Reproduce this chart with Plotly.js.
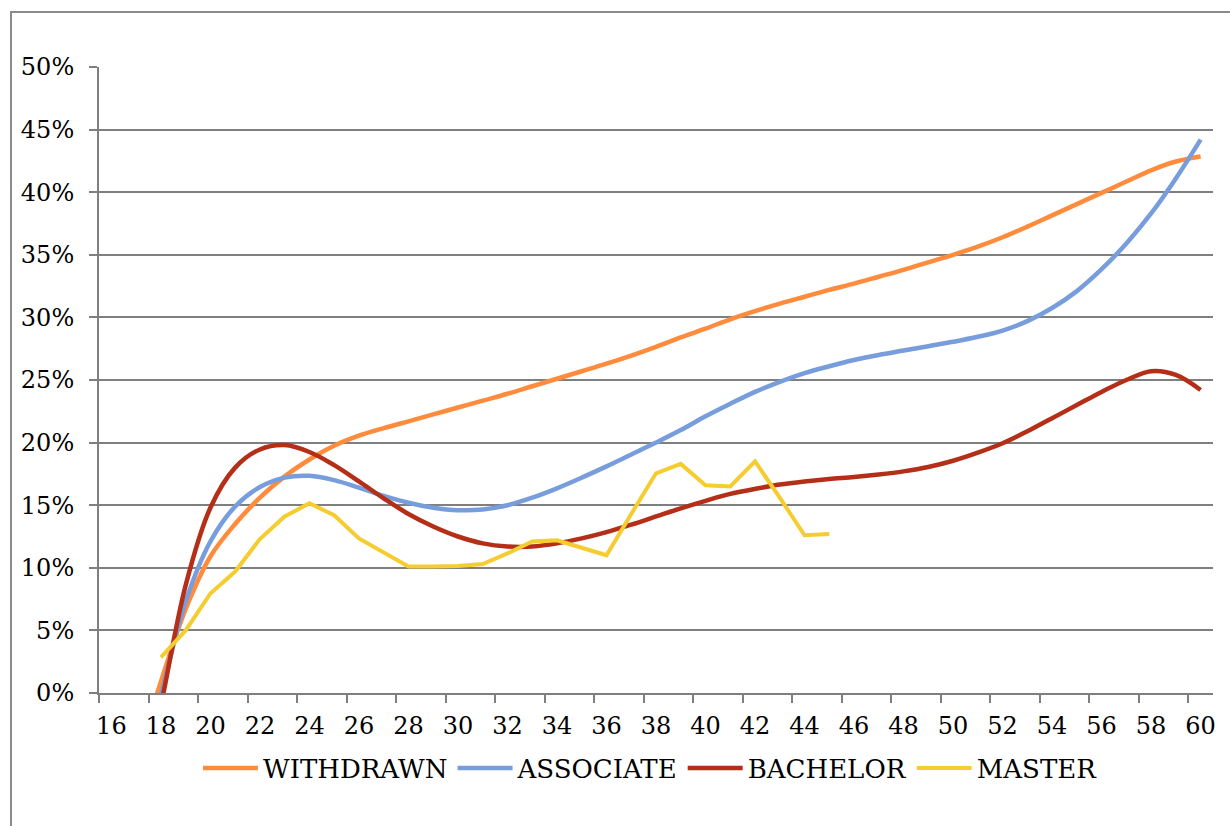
<!DOCTYPE html>
<html>
<head>
<meta charset="utf-8">
<script src="https://cdn.plot.ly/plotly-3.0.1.min.js"></script>
<style>
  html, body { margin: 0; padding: 0; background: #fff; }
  #chart { width: 1230px; height: 826px; }
</style>
</head>
<body>
<div id="chart"></div>
<script>
// Age axis labels (every second age is labelled)
const tickAges = [16, 18, 20, 22, 24, 26, 28, 30, 32, 34, 36, 38, 40, 42, 44, 46, 48, 50, 52, 54, 56, 58, 60];

// Smoothed curves, one value per age (percent)
const curveAges = [17, 18, 19, 20, 21, 22, 23, 24, 25, 26, 27, 28, 29, 30, 31, 32, 33, 34, 35, 36, 37, 38,
                   39, 40, 41, 42, 43, 44, 45, 46, 47, 48, 49, 50, 51, 52, 53, 54, 55, 56, 57, 58, 59, 60];

const withdrawn = [-5.5, 0.9, 6.7, 10.9, 13.5, 15.6, 17.3, 18.65, 19.75, 20.55, 21.15, 21.7, 22.25, 22.8, 23.35,
                   23.9, 24.5, 25.1, 25.7, 26.3, 26.95, 27.65, 28.4, 29.1, 29.85, 30.5, 31.1, 31.65, 32.2, 32.7,
                   33.25, 33.8, 34.4, 35.0, 35.65, 36.4, 37.25, 38.15, 39.05, 39.95, 40.85, 41.75, 42.45, 42.85];

const associate = [-7.5, -0.2, 7.3, 12.1, 14.9, 16.45, 17.2, 17.35, 17.0, 16.4, 15.75, 15.2, 14.8, 14.6, 14.65,
                   15.0, 15.6, 16.35, 17.2, 18.1, 19.05, 20.0, 21.0, 22.1, 23.1, 24.05, 24.85, 25.55, 26.1, 26.6,
                   27.0, 27.35, 27.7, 28.05, 28.45, 28.95, 29.7, 30.75, 32.1, 33.85, 35.9, 38.3, 41.1, 44.2];

const bachelor = [-10.0, -1.0, 8.6, 14.8, 18.0, 19.45, 19.8, 19.25, 18.2, 16.9, 15.55, 14.3, 13.3, 12.5, 11.95,
                  11.7, 11.7, 11.95, 12.35, 12.85, 13.45, 14.1, 14.75, 15.35, 15.9, 16.3, 16.65, 16.9, 17.1, 17.25,
                  17.45, 17.7, 18.05, 18.55, 19.2, 19.95, 20.9, 21.95, 23.0, 24.05, 25.0, 25.7, 25.4, 24.2];

// Observed values, drawn as a plain polyline
const masterAges = [18, 19, 20, 21, 22, 23, 24, 25, 26, 27, 28, 29, 30, 31, 32, 33, 34, 35, 36, 37, 38, 39,
                    40, 41, 42, 43, 44, 45];
const master = [2.85, 5.0, 7.95, 9.7, 12.3, 14.1, 15.15, 14.2, 12.35, 11.2, 10.1, 10.1, 10.15, 10.3, 11.15,
                12.1, 12.2, 11.6, 11.0, 14.3, 17.55, 18.3, 16.6, 16.5, 18.5, 15.6, 12.6, 12.7];

const seriesNames = ['WITHDRAWN', 'ASSOCIATE', 'BACHELOR', 'MASTER'];

const FONT = 'DejaVu Serif, "Liberation Serif", serif';
const GRID = '#7f7f7f';

const traces = [
  { x: curveAges, y: withdrawn, name: seriesNames[0], mode: 'lines',
    line: { color: '#FF8B3D', width: 4.5, shape: 'spline', smoothing: 1 } },
  { x: curveAges, y: associate, name: seriesNames[1], mode: 'lines',
    line: { color: '#779DDC', width: 4.5, shape: 'spline', smoothing: 1 } },
  { x: curveAges, y: bachelor, name: seriesNames[2], mode: 'lines',
    line: { color: '#B52E17', width: 4.5, shape: 'spline', smoothing: 1 } },
  { x: masterAges, y: master, name: seriesNames[3], mode: 'lines',
    line: { color: '#F5CD30', width: 4, shape: 'linear' } }
];

const layout = {
  width: 1230,
  height: 826,
  margin: { l: 99, r: 17, t: 67, b: 133 },
  paper_bgcolor: '#ffffff',
  plot_bgcolor: '#ffffff',
  font: { family: FONT, size: 24, color: '#000' },
  showlegend: true,
  legend: {
    orientation: 'h',
    x: 0.495, xanchor: 'center',
    y: -0.12, yanchor: 'middle',
    itemwidth: 55,
    font: { family: FONT, size: 26, color: '#000' },
    itemclick: false, itemdoubleclick: false,
    tracegroupgap: 0
  },
  xaxis: {
    type: 'linear',
    range: [15.5, 60.5],
    tickmode: 'array',
    tickvals: tickAges,
    ticktext: tickAges.map(String),
    ticks: '',
    showgrid: false,
    zeroline: false,
    showline: true,
    linecolor: GRID,
    linewidth: 2,
    ticklabelstandoff: 10,
    tickfont: { family: FONT, size: 24, color: '#000' },
    minor: {
      tickmode: 'linear',
      tick0: 15.5,
      dtick: 2,
      ticks: 'outside',
      ticklen: 8,
      tickwidth: 2,
      tickcolor: GRID,
      showgrid: false
    },
    fixedrange: true
  },
  yaxis: {
    range: [0, 50],
    tickmode: 'linear',
    tick0: 0,
    dtick: 5,
    ticksuffix: '%',
    ticks: 'outside',
    ticklen: 8,
    tickwidth: 2,
    tickcolor: GRID,
    showgrid: true,
    gridcolor: GRID,
    gridwidth: 2,
    zeroline: false,
    showline: true,
    linecolor: GRID,
    linewidth: 2,
    ticklabelstandoff: 10,
    tickfont: { family: FONT, size: 24, color: '#000' },
    fixedrange: true
  },
  shapes: [
    // outer chart frame
    { type: 'rect', xref: 'paper', yref: 'paper', layer: 'below',
      x0: -0.079, x1: 1.3, y0: -0.6, y1: 1.0879,
      line: { color: '#8a8a8a', width: 2 }, fillcolor: 'rgba(0,0,0,0)' }
  ]
};

Plotly.newPlot('chart', traces, layout, { displayModeBar: false, staticPlot: true });
</script>
</body>
</html>
